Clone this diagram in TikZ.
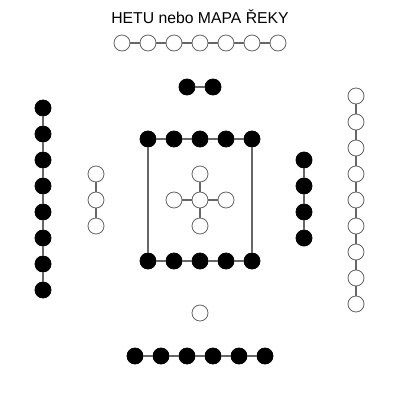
\documentclass[tikz,border=0pt]{standalone}
\usepackage{fontspec}
\setmainfont{Liberation Sans}
\usetikzlibrary{positioning}
\newcommand*{\gap}{26}
\newcommand*{\pxMax}{400}

\begin{document}
\begin{tikzpicture}[x=0.025cm,y=-0.025cm,
		bead/.style={circle,draw=black!60,fill=white,line width=0.6pt,minimum size=0.4cm,inner sep=0pt},
		blackbead/.style={bead,draw=black,fill=black},
		string/.style={draw=black!60,line width=0.8pt}]
	\useasboundingbox (0,0) rectangle (\pxMax,\pxMax);
	\node[font=\fontsize{11.2}{13}\selectfont] (title) at (200,17) {HETU nebo MAPA ŘEKY};

	% top row
	\foreach \i in {1,...,7} {
		\node[bead] (top\i) at ({96+\gap*\i},43) {};
	}
	\foreach \i [count=\j from 2] in {1,...,6} {
		\draw[string] (top\i) -- (top\j);
	}

	% black pair
	\node[blackbead] (pair1) at (187,87) {};
	\node[blackbead] (pair2) at (213,87) {};
	\draw[string] (pair1) -- (pair2);

	% left columns
	\foreach \i in {1,...,8} {
		\node[blackbead] (left\i) at (43,{82+\gap*\i}) {};
	}
	\foreach \i [count=\j from 2] in {1,...,7} {
		\draw[string] (left\i) -- (left\j);
	}
	\foreach \i in {1,...,3} {
		\node[bead] (inner\i) at (96,{148+\gap*\i}) {};
	}
	\foreach \i [count=\j from 2] in {1,2} {
		\draw[string] (inner\i) -- (inner\j);
	}

	% box
	\foreach \i in {1,...,5} {
		\node[blackbead] (boxT\i) at ({122+\gap*\i},139) {};
		\node[blackbead] (boxB\i) at ({122+\gap*\i},261) {};
	}
	\foreach \i [count=\j from 2] in {1,...,4} {
		\draw[string] (boxT\i) -- (boxT\j);
		\draw[string] (boxB\i) -- (boxB\j);
	}
	\draw[string] (boxT1) -- (boxB1);
	\draw[string] (boxT5) -- (boxB5);

	% cross
	\node[bead] (hub) at (200,200) {};
	\node[bead] (armN) at (200,174) {};
	\node[bead] (armS) at (200,226) {};
	\node[bead] (armW) at (174,200) {};
	\node[bead] (armE) at (226,200) {};
	\foreach \a in {armN,armS,armW,armE} {
		\draw[string] (hub) -- (\a);
	}

	% right columns
	\foreach \i in {1,...,4} {
		\node[blackbead] (rblack\i) at (304,{134+\gap*\i}) {};
	}
	\foreach \i [count=\j from 2] in {1,...,3} {
		\draw[string] (rblack\i) -- (rblack\j);
	}
	\foreach \i in {1,...,9} {
		\node[bead] (right\i) at (356,{70+\gap*\i}) {};
	}
	\foreach \i [count=\j from 2] in {1,...,8} {
		\draw[string] (right\i) -- (right\j);
	}

	% single and bottom row
	\node[bead] (single) at (200,313) {};
	\foreach \i in {1,...,6} {
		\node[blackbead] (bottom\i) at ({109+\gap*\i},356) {};
	}
	\foreach \i [count=\j from 2] in {1,...,5} {
		\draw[string] (bottom\i) -- (bottom\j);
	}
\end{tikzpicture}
\end{document}
